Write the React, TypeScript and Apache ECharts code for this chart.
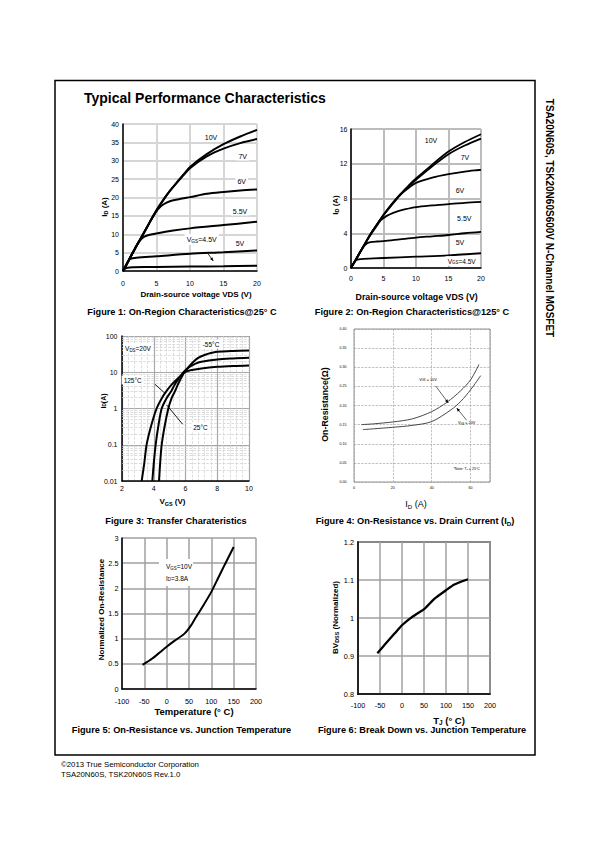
import React, { useEffect, useRef } from "react";
import * as echarts from "echarts";

const NARROW = '"Liberation Sans Narrow", "Arial Narrow", "Liberation Sans", Arial, sans-serif';
const SANS = '"Liberation Sans", Arial, Helvetica, sans-serif';

// ---------- page texts ----------
const pageTitle = "Typical Performance Characteristics";
const sideTitle = "TSA20N60S, TSK20N60S600V N-Channel MOSFET";
const footerLines = ["©2013 True Semiconductor Corporation", "TSA20N60S, TSK20N60S Rev.1.0"];
const captions = [
  "Figure 1: On-Region Characteristics@25° C",
  "Figure 2: On-Region Characteristics@125° C",
  "Figure 3: Transfer Charateristics",
  "{n|Figure 4: On-Resistance vs. Drain Current (I}{s|D}{n|)}",
  "Figure 5: On-Resistance vs. Junction Temperature",
  "Figure 6: Break Down vs. Junction Temperature",
];

// ---------- Figure 1 : ID vs VDS @25C ----------
const f1XAxis = [0, 20, 5];
const f1YAxis = [0, 40, 5];
const f1Vgs10 = [[0, 0], [0.5, 1.7], [1, 3.4], [2, 6.8], [3, 10], [4, 13.3], [5, 16.5], [6, 19.3], [7, 21.8], [8, 24], [9, 26.2], [10, 28.3], [12.5, 31.8], [15, 34.5], [17.5, 36.6], [20, 38.4]];
const f1Vgs7 = [[0, 0], [0.5, 1.7], [1, 3.4], [2, 6.8], [3, 10], [4, 13.3], [5, 16.5], [6, 19.3], [7, 21.8], [8, 24], [9, 26], [10, 28], [12.5, 31.2], [15, 33.3], [17.5, 34.8], [20, 35.9]];
const f1Vgs6 = [[0, 0], [1, 3.4], [2, 6.8], [3, 10], [4, 13.3], [4.6, 15.2], [5.2, 16.8], [6, 18.1], [7, 19], [8.8, 19.7], [10, 20.1], [12.5, 21], [15, 21.5], [17.5, 21.9], [20, 22.2]];
const f1Vgs55 = [[0, 0], [1, 3.4], [2, 6.8], [2.4, 8.0], [2.9, 9.0], [3.5, 9.6], [5, 10.2], [7.5, 11.0], [10, 11.6], [15, 12.5], [20, 13.4]];
const f1Vgs5 = [[0, 0], [0.5, 1.7], [0.8, 2.7], [1.1, 3.3], [2, 3.6], [5, 4.0], [10, 4.7], [15, 5.1], [20, 5.6]];
const f1Vgs45 = [[0, 0], [0.3, 0.6], [0.7, 0.9], [1.5, 1.0], [5, 1.1], [10, 1.2], [15, 1.3], [20, 1.45]];

// ---------- Figure 2 : ID vs VDS @125C ----------
const f2XAxis = [0, 20, 5];
const f2YAxis = [0, 16, 4];
const f2Vgs10 = [[0, 0], [1, 1.3], [2, 2.6], [3, 3.9], [4, 5.0], [5, 6.1], [6, 7.1], [7, 8.0], [8, 8.8], [9, 9.6], [10, 10.3], [12.5, 11.9], [15, 13.4], [17.5, 14.5], [20, 15.4]];
const f2Vgs7 = [[0, 0], [1, 1.3], [2, 2.6], [3, 3.9], [4, 5.0], [5, 6.1], [6, 7.1], [7, 8.0], [8, 8.8], [9, 9.5], [10, 10.15], [12.5, 11.7], [15, 13.1], [17.5, 14.1], [20, 14.9]];
const f2Vgs6 = [[0, 0], [1, 1.3], [2, 2.6], [3, 3.9], [4, 5.0], [5, 6.1], [6, 7.0], [7, 7.9], [8, 8.7], [9, 9.3], [10, 9.8], [12.5, 10.4], [15, 10.8], [17.5, 11.1], [20, 11.3]];
const f2Vgs55 = [[0, 0], [1, 1.3], [2, 2.6], [3, 3.8], [4, 4.9], [4.6, 5.5], [5.5, 6.0], [6.5, 6.35], [7.5, 6.6], [10, 7.0], [12.5, 7.2], [15, 7.35], [17.5, 7.5], [20, 7.6]];
const f2Vgs5 = [[0, 0], [1, 1.3], [2, 2.5], [2.5, 2.85], [3, 2.97], [4, 3.05], [5, 3.1], [7.5, 3.3], [10, 3.5], [12.5, 3.65], [15, 3.8], [17.5, 4.0], [20, 4.15]];
const f2Vgs45 = [[0, 0], [0.4, 0.55], [0.8, 0.9], [1.2, 1.0], [2, 1.05], [5, 1.15], [10, 1.3], [15, 1.45], [20, 1.7]];

// ---------- Figure 3 : transfer ----------
const f3XAxis = [2, 10, 2];
const f3YRange = [0.01, 100];
const f3T125 = [[3.24, 0.01], [3.4, 0.03], [3.55, 0.1], [3.85, 0.35], [4.18, 1], [4.5, 1.9], [4.8, 3], [5.1, 4.4], [5.4, 6], [5.7, 8], [5.97, 10], [6.3, 11.3], [7, 12.7], [8, 14.1], [9, 14.9], [10, 15.4]];
const f3T25 = [[3.91, 0.01], [4.0, 0.03], [4.12, 0.1], [4.3, 0.35], [4.5, 1], [4.8, 1.9], [5.1, 3], [5.3, 4.4], [5.5, 6], [5.7, 8], [5.87, 10], [6.2, 13.5], [6.6, 17], [7, 19.4], [8, 22.5], [9, 24], [10, 25]];
const f3Tm55 = [[4.33, 0.01], [4.4, 0.03], [4.5, 0.1], [4.7, 0.35], [4.92, 1], [5.12, 1.9], [5.34, 3], [5.5, 4.4], [5.65, 6], [5.8, 8], [5.92, 10], [6.2, 14], [6.5, 19.5], [6.8, 25], [7.2, 30], [7.6, 34], [8, 36.5], [9, 38.5], [10, 39.6]];
const f3Decades = [0.01, 0.1, 1, 10];
const f3MinorSteps = [2, 3, 4, 5, 6, 7, 8, 9];

// ---------- Figure 4 : RDS(on) vs ID ----------
const f4XAxis = [0, 70, 20];
const f4YAxis = [0, 0.4, 0.05];
const f4Vgs10 = [[3.8, 0.150], [10, 0.152], [20, 0.157], [30, 0.165], [40, 0.184], [48, 0.209], [55, 0.239], [60, 0.267], [64.3, 0.307]];
const f4Vgs20 = [[4.6, 0.137], [10, 0.139], [20, 0.143], [30, 0.148], [40, 0.158], [50, 0.189], [55, 0.211], [60, 0.241], [65.2, 0.278]];

// ---------- Figure 5 : normalized RDS(on) vs T ----------
const f5XAxis = [-100, 200, 50];
const f5YAxis = [0, 3, 0.5];
const f5Rds = [[-54, 0.48], [-33, 0.6], [-15, 0.73], [0, 0.84], [18, 0.96], [40, 1.1], [55, 1.27], [65, 1.42], [80, 1.63], [100, 1.93], [115, 2.2], [130, 2.47], [150, 2.82]];

// ---------- Figure 6 : BVDSS vs TJ ----------
const f6XAxis = [-100, 200, 50];
const f6YAxis = [0.8, 1.2, 0.1];
const f6Bv = [[-56, 0.907], [-40, 0.929], [-17, 0.959], [0, 0.981], [21, 1.001], [35, 1.012], [51, 1.024], [74, 1.051], [100, 1.073], [119, 1.088], [150, 1.102]];

function rich(size: number, weight: string, family: string) {
  const base = { fontSize: size, fontWeight: weight, fontFamily: family, fill: "#000", color: "#000" };
  return {
    n: { ...base },
    s: { ...base, fontSize: size * 0.68, padding: [size * 0.55, 0, 0, 0] },
  };
}

function txt(x: number, y: number, text: string, o: any = {}) {
  const size = o.size ?? 7;
  const weight = o.weight ?? "normal";
  const family = o.family ?? SANS;
  const align = o.align ?? "center";
  const style: any = {
    text,
    fill: "#000",
    fontSize: size,
    fontWeight: weight,
    fontFamily: family,
    align,
    verticalAlign: "middle",
    textAlign: align,
    textVerticalAlign: "middle",
    rich: rich(size, weight, family),
  };
  if (o.bg) {
    style.backgroundColor = o.bg;
    style.padding = o.pad ?? [1, 2];
  }
  return { type: "text", x, y, rotation: o.rotation ?? 0, z: 100, silent: true, style };
}

function arrow(x1: number, y1: number, x2: number, y2: number, head: boolean, w = 0.8) {
  const els: any[] = [
    { type: "line", z: 101, silent: true, shape: { x1, y1, x2, y2 }, style: { stroke: "#000", lineWidth: w } },
  ];
  if (head) {
    const a = Math.atan2(y2 - y1, x2 - x1);
    const L = 3.5, W = 1.5;
    const bx = x2 - L * Math.cos(a), by = y2 - L * Math.sin(a);
    els.push({
      type: "polygon", z: 101, silent: true,
      shape: { points: [[x2, y2], [bx - W * Math.sin(a), by + W * Math.cos(a)], [bx + W * Math.sin(a), by - W * Math.cos(a)]] },
      style: { fill: "#000" },
    });
  }
  return els;
}

function axis(gi: number, r: number[], o: any = {}) {
  return {
    type: "value",
    gridIndex: gi,
    min: r[0],
    max: r[1],
    interval: r[2],
    axisLine: { show: o.line !== false, onZero: false, lineStyle: { color: "#000", width: o.lineW ?? 1.5 } },
    axisTick: { show: false },
    axisLabel: {
      color: "#000",
      fontFamily: o.family ?? NARROW,
      fontSize: o.fs ?? 7,
      margin: o.margin ?? 5,
      formatter: o.fmt,
      showMaxLabel: o.showMax,
    },
    splitLine: { show: true, lineStyle: { color: o.gc ?? "#bbb", width: o.gw ?? 1.5, type: o.gt ?? "solid" } },
    minorTick: o.minor ? { show: false, splitNumber: o.minor } : undefined,
    minorSplitLine: o.minor ? { show: true, lineStyle: { color: "#cfcfcf", width: 0.7, type: "dashed" } } : undefined,
  };
}

function curve(data: number[][], idx: number, width: number, color = "#000", smooth: number = 0.3) {
  return {
    type: "line",
    xAxisIndex: idx,
    yAxisIndex: idx,
    data,
    symbol: "none",
    showSymbol: false,
    smooth,
    silent: true,
    z: 3,
    lineStyle: { color, width },
  };
}

function buildOption() {
  const grids = [
    { left: 123, top: 124, width: 134, height: 147 },
    { left: 351, top: 129, width: 130, height: 139 },
    { left: 122, top: 336, width: 127, height: 145 },
    { left: 354, top: 329, width: 136, height: 153, show: true, borderColor: "#777", borderWidth: 0.8 },
    { left: 122, top: 538, width: 134, height: 151 },
    { left: 358, top: 542, width: 132, height: 152, show: true, borderColor: "#000", borderWidth: 1.3 },
  ].map((g) => ({ ...g, containLabel: false, outerBoundsMode: "none" }));

  const f3Minor: number[] = [];
  f3Decades.forEach((d) => f3MinorSteps.forEach((k) => f3Minor.push(Number((k * d).toPrecision(3)))));

  const xAxis = [
    axis(0, f1XAxis, { margin: 9, gc: "#d6d6d6", gw: 2 }),
    axis(1, f2XAxis, { margin: 6.5, gc: "#bcbcbc", gw: 2 }),
    axis(2, f3XAxis, { margin: 4, gc: "#a8a8a8", gw: 1.2, minor: 5 }),
    axis(3, f4XAxis, { margin: 4, fs: 3.6, family: SANS, line: false, gc: "#999", gw: 0.6, gt: "dashed", showMax: false }),
    axis(4, f5XAxis, { margin: 9, fs: 7.3, gc: "#a0a0a0", gw: 1.5 }),
    axis(5, f6XAxis, { margin: 7.5, fs: 7.3, gc: "#a0a0a0", gw: 1.5 }),
  ];
  const yAxis: any[] = [
    axis(0, f1YAxis, { margin: 4, gc: "#d6d6d6", gw: 2 }),
    axis(1, f2YAxis, { margin: 3.5, gc: "#bcbcbc", gw: 2 }),
    {
      type: "log",
      logBase: 10,
      gridIndex: 2,
      min: f3YRange[0],
      max: f3YRange[1],
      axisLine: { show: true, onZero: false, lineStyle: { color: "#000", width: 1.5 } },
      axisTick: { show: false },
      axisLabel: { color: "#000", fontFamily: NARROW, fontSize: 7, margin: 4.5 },
      splitLine: { show: true, lineStyle: { color: "#a8a8a8", width: 1.2 } },
    },
    axis(3, f4YAxis, { margin: 7.5, fs: 3.6, family: SANS, line: false, gc: "#999", gw: 0.6, gt: "dashed", fmt: (v: number) => v.toFixed(2) }),
    axis(4, f5YAxis, { margin: 3.5, fs: 7.3, gc: "#a0a0a0", gw: 1.5 }),
    axis(5, f6YAxis, { margin: 4, fs: 7.3, gc: "#a0a0a0", gw: 1.5 }),
  ];

  const series: any[] = [
    {
      type: "line", xAxisIndex: 2, yAxisIndex: 2, data: [], silent: true, z: 1,
      markLine: {
        z: 1, zlevel: 0,
        silent: true, symbol: ["none", "none"], animation: false, label: { show: false },
        lineStyle: { color: "#cfcfcf", type: "dashed", width: 0.7 },
        emphasis: { disabled: true },
        data: f3Minor.map((v) => ({ yAxis: v })),
      },
    },
    curve(f1Vgs10, 0, 2), curve(f1Vgs7, 0, 2), curve(f1Vgs6, 0, 2), curve(f1Vgs55, 0, 2), curve(f1Vgs5, 0, 2), curve(f1Vgs45, 0, 2),
    curve(f2Vgs10, 1, 1.8), curve(f2Vgs7, 1, 1.8), curve(f2Vgs6, 1, 1.8), curve(f2Vgs55, 1, 1.8), curve(f2Vgs5, 1, 1.8), curve(f2Vgs45, 1, 1.8),
    curve(f3T125, 2, 2), curve(f3T25, 2, 2), curve(f3Tm55, 2, 2),
    curve(f4Vgs10, 3, 0.9, "#333"), curve(f4Vgs20, 3, 0.9, "#333"),
    curve(f5Rds, 4, 2, "#000", 0.2),
    curve(f6Bv, 5, 2.3, "#000", 0.2),
  ];

  const L = NARROW;
  const CAP = 9.2;
  const graphic: any[] = [
    { type: "rect", z: 90, silent: true, shape: { x: 55, y: 80.5, width: 480, height: 674.5 }, style: { fill: "none", stroke: "#000", lineWidth: 1.5 } },
    txt(84, 98, pageTitle, { size: 14, weight: "bold", align: "left" }),
    txt(549, 218, sideTitle, { size: 10, weight: "bold", rotation: -Math.PI / 2 }),
    txt(61, 764, footerLines[0], { size: 7.8, align: "left" }),
    txt(61, 774, footerLines[1], { size: 7.8, align: "left" }),

    txt(182, 312, captions[0], { size: CAP, weight: "bold" }),
    txt(412, 312, captions[1], { size: CAP, weight: "bold" }),
    txt(176, 521, captions[2], { size: CAP, weight: "bold" }),
    txt(415, 521, captions[3], { size: CAP, weight: "bold" }),
    txt(181.5, 730, captions[4], { size: CAP, weight: "bold" }),
    txt(422, 730, captions[5], { size: CAP, weight: "bold" }),

    // figure 1
    txt(104, 207, "{n|I}{s|D}{n| (A)}", { size: 8, weight: "bold", rotation: Math.PI / 2 }),
    txt(196, 294.7, "Drain-source voltage VDS (V)", { size: 8, weight: "bold" }),
    txt(211, 137, "10V", { size: 7, family: L, bg: "#fff" }),
    txt(242.7, 156, "7V", { size: 7, family: L, bg: "#fff" }),
    txt(241.7, 181.3, "6V", { size: 7, family: L, bg: "#fff" }),
    txt(240, 211, "5.5V", { size: 7, family: L, bg: "#fff" }),
    txt(201.7, 239.5, "{n|V}{s|GS}{n|=4.5V}", { size: 7, family: L, bg: "#fff" }),
    txt(240, 243, "5V", { size: 7, family: L, bg: "#fff" }),
    ...arrow(208, 253.7, 213.3, 261, true),

    // figure 2
    txt(335, 205, "{n|I}{s|D}{n| (A)}", { size: 8, weight: "bold", rotation: Math.PI / 2 }),
    txt(416.7, 296.7, "Drain-source voltage VDS (V)", { size: 8.8, weight: "bold" }),
    txt(431, 140, "10V", { size: 7, family: L, bg: "#fff" }),
    txt(465, 157.7, "7V", { size: 7, family: L, bg: "#fff" }),
    txt(460, 190, "6V", { size: 7, family: L, bg: "#fff" }),
    txt(464.3, 218.3, "5.5V", { size: 7, family: L, bg: "#fff" }),
    txt(460, 242.3, "5V", { size: 7, family: L, bg: "#fff" }),
    txt(461.7, 261, "{n|V}{s|GS}{n|=4.5V}", { size: 6.5, family: L, bg: "#fff" }),

    // figure 3
    txt(103, 401, "{n|I}{s|D}{n|(A)}", { size: 7, weight: "bold", rotation: Math.PI / 2 }),
    txt(172.5, 501.7, "{n|V}{s|GS}{n| (V)}", { size: 8, weight: "bold" }),
    txt(138, 348.5, "{n|V}{s|DS}{n|=20V}", { size: 6.5, family: L, bg: "#fff" }),
    txt(211, 344, "-55°C", { size: 6.5, family: L, bg: "#fff" }),
    txt(132.7, 380, "125°C", { size: 6.5, family: L, bg: "#fff" }),
    txt(200.5, 427, "25°C", { size: 6.5, family: L, bg: "#fff" }),
    ...arrow(155, 384.3, 165, 393.3, false, 0.9),
    ...arrow(182.7, 424.3, 166.7, 405, false, 0.9),

    // figure 4
    txt(325, 404.5, "On-Resistance(Ω)", { size: 8.8, weight: "bold", rotation: Math.PI / 2 }),
    txt(416, 503.7, "{n|I}{s|D}{n| (A)}", { size: 9 }),
    txt(428, 379.7, "{n|V}{s|GS}{n| = 10V}", { size: 3.8 }),
    txt(466.7, 423, "{n|V}{s|GS}{n| = 20V}", { size: 3.8 }),
    txt(466.7, 468.7, "{n|*Note: T}{s|J}{n| = 25°C}", { size: 3.6 }),
    ...arrow(435.7, 386, 448.3, 403, true, 0.6),
    ...arrow(466.7, 420.3, 456.7, 408, true, 0.6),

    // figure 5
    txt(101, 609.5, "Normalized On-Resistance", { size: 8, weight: "bold", rotation: Math.PI / 2 }),
    txt(194, 711.3, "Temperature (° C)", { size: 9.5, weight: "bold" }),
    { type: "rect", z: 99, silent: true, shape: { x: 159, y: 559, width: 34, height: 27 }, style: { fill: "#fff" } },
    txt(166, 566.3, "{n|V}{s|GS}{n|=10V}", { size: 6.5, family: L, align: "left" }),
    txt(166, 578, "{n|I}{s|D}{n|=3.8A}", { size: 6.5, family: L, align: "left" }),

    // figure 6
    txt(335, 617.5, "{n|BV}{s|DSS}{n| (Normalized)}", { size: 8, weight: "bold", rotation: Math.PI / 2 }),
    txt(449, 720, "{n|T}{s|J}{n| (° C)}", { size: 9.5, weight: "bold" }),
  ];

  return {
    animation: false,
    backgroundColor: "#fff",
    grid: grids,
    xAxis,
    yAxis,
    series,
    graphic,
  };
}

export default function App() {
  const ref = useRef<HTMLDivElement>(null);
  useEffect(() => {
    const chart = echarts.init(ref.current as HTMLDivElement, null, { renderer: "svg" });
    chart.setOption(buildOption() as any);
    return () => chart.dispose();
  }, []);
  return (
    <div
      ref={ref}
      style={{ position: "absolute", left: 0, top: 0, width: 595, height: 842, background: "#fff" }}
    />
  );
}
